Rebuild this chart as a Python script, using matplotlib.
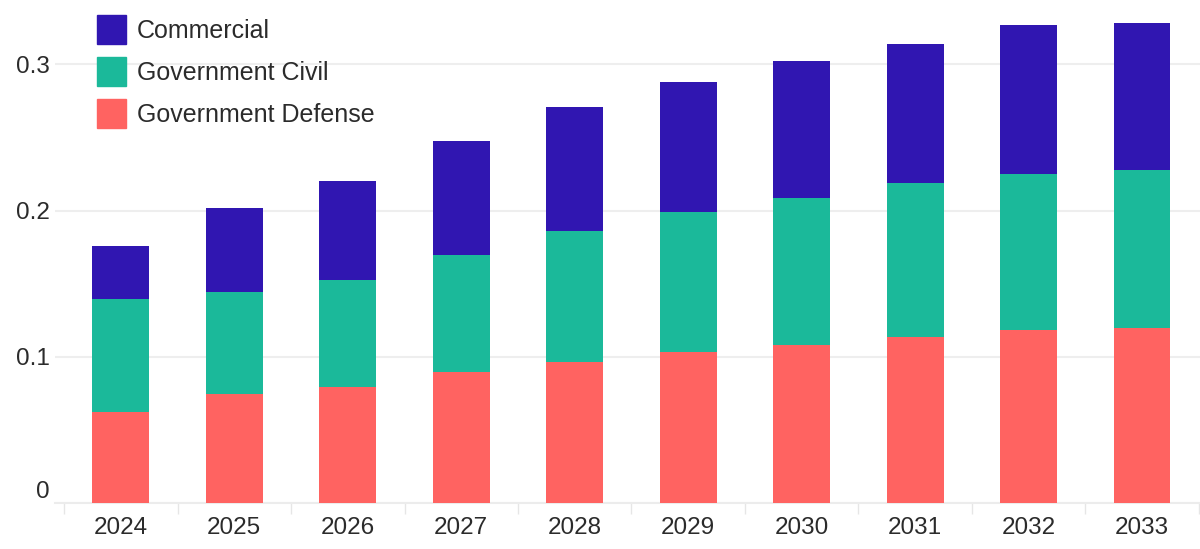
import numpy as np
import matplotlib.pyplot as plt
from matplotlib.patches import Patch

years = ['2024', '2025', '2026', '2027', '2028', '2029', '2030', '2031', '2032', '2033']
defense = [0.062, 0.0747, 0.0793, 0.0893, 0.0964, 0.1034, 0.108, 0.1137, 0.1183, 0.1196]
civil = [0.0777, 0.0693, 0.0731, 0.0804, 0.0893, 0.0953, 0.1007, 0.1053, 0.1064, 0.1078]
commercial = [0.036, 0.0576, 0.0679, 0.0779, 0.0848, 0.0891, 0.0936, 0.095, 0.102, 0.1006]

col_def = '#ff6361'
col_civ = '#1bb99a'
col_com = '#3016b1'
text_col = '#2b2b2b'
grid_col = '#eeeeee'

plt.rcParams['font.family'] = ['Liberation Sans', 'DejaVu Sans']

fig = plt.figure(figsize=(12, 5.49), dpi=100)
ax = fig.add_axes([55 / 1200, 46 / 549, 1 - 55 / 1200, 503 / 549])

x = np.arange(len(years))
d = np.array(defense)
c = np.array(civil)
m = np.array(commercial)

ax.bar(x, d, width=0.5, color=col_def, zorder=3)
ax.bar(x, c, width=0.5, bottom=d, color=col_civ, zorder=3)
ax.bar(x, m, width=0.5, bottom=d + c, color=col_com, zorder=3)

ax.set_xlim(-0.58, 9.51)
ax.set_ylim(0, 0.344)

ax.set_yticks([0, 0.1, 0.2, 0.3])
ax.set_yticklabels(['0', '0.1', '0.2', '0.3'])
ax.yaxis.grid(True, color=grid_col, linewidth=1.5, zorder=0)
ax.tick_params(axis='y', length=0, pad=4, labelsize=17.5, labelcolor=text_col)
ax.get_yticklabels()[0].set_verticalalignment('bottom')

ax.set_xticks(x)
ax.set_xticklabels(years)
ax.set_xticks(np.arange(-0.5, len(years), 1), minor=True)
ax.tick_params(axis='x', which='major', length=0, pad=10, labelsize=17.5, labelcolor=text_col)
ax.tick_params(axis='x', which='minor', length=8, width=1, color='#e6e6e6')

for side in ['top', 'right', 'left']:
    ax.spines[side].set_visible(False)
ax.spines['bottom'].set_color('#ececec')
ax.spines['bottom'].set_linewidth(1.5)

handles = [Patch(color=col_com, label='Commercial'),
           Patch(color=col_civ, label='Government Civil'),
           Patch(color=col_def, label='Government Defense')]
fig.legend(handles=handles, loc='upper left', bbox_to_anchor=(97 / 1200, 1 - 15 / 549),
           frameon=False, fontsize=18, handlelength=1.16, handleheight=1.41,
           labelspacing=0.52, handletextpad=0.45, borderpad=0, borderaxespad=0,
           labelcolor=text_col)

fig.savefig('out.png', dpi=100, facecolor='white')
